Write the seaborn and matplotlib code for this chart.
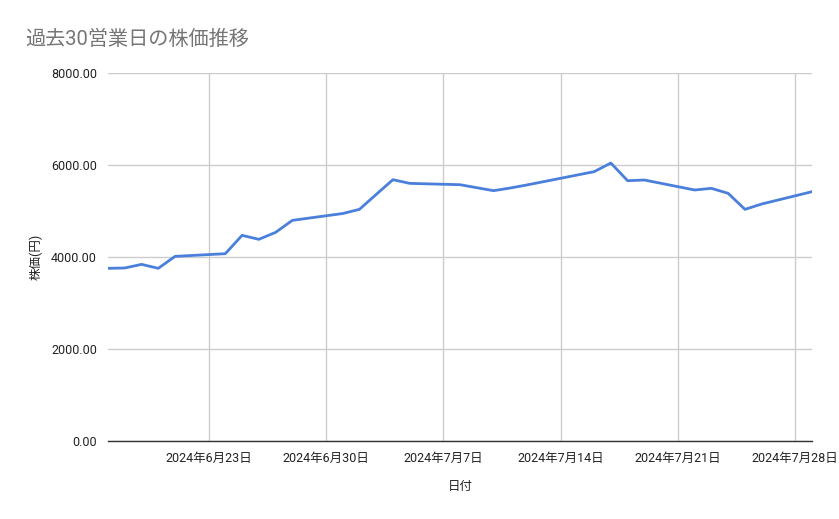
import pandas as pd
import numpy as np
import matplotlib.pyplot as plt
import matplotlib.dates as mdates
import seaborn as sns

# Data (30 business days)
dates = [
    "2024-06-17", "2024-06-18", "2024-06-19", "2024-06-20", "2024-06-21",
    "2024-06-24", "2024-06-25", "2024-06-26", "2024-06-27", "2024-06-28",
    "2024-07-01", "2024-07-02", "2024-07-03", "2024-07-04", "2024-07-05",
    "2024-07-08", "2024-07-09", "2024-07-10", "2024-07-11", "2024-07-12",
    "2024-07-16", "2024-07-17", "2024-07-18", "2024-07-19",
    "2024-07-22", "2024-07-23", "2024-07-24", "2024-07-25", "2024-07-26",
    "2024-07-29",
]
prices = [
    3754, 3761, 3840, 3754, 4014,
    4072, 4471, 4384, 4536, 4797,
    4945, 5036, 5360, 5681, 5601,
    5572, 5507, 5442, 5500, 5567,
    5855, 6043, 5659, 5674,
    5457, 5493, 5384, 5036, 5152,
    5420,
]
tick_dates = ["2024-06-23", "2024-06-30", "2024-07-07", "2024-07-14", "2024-07-21", "2024-07-28"]
y_ticks = [0, 2000, 4000, 6000, 8000]

df = pd.DataFrame({"日付": pd.to_datetime(dates), "株価": prices})

sns.set_theme(style="white")
plt.rcParams['font.family'] = ['Roboto', 'Noto Sans CJK JP', 'DejaVu Sans']

fig = plt.figure(figsize=(8.39, 5.19), dpi=100)
ax = fig.add_axes([0.1287, 0.1503, 0.8391, 0.709])

sns.lineplot(data=df, x="日付", y="株価", ax=ax, color="#4a80dc", linewidth=2)

ax.set_xlim(pd.Timestamp("2024-06-17"), pd.Timestamp("2024-07-29"))
ax.set_ylim(0, 8000)
ax.set_xticks(pd.to_datetime(tick_dates))
ax.set_xticklabels([f"{d.year}年{d.month}月{d.day}日" for d in pd.to_datetime(tick_dates)])
ax.set_yticks(y_ticks)
ax.set_yticklabels([f"{v:.2f}" for v in y_ticks])

ax.grid(True, color="#cccccc", linewidth=1)
for side in ["top", "right", "left"]:
    ax.spines[side].set_visible(False)
ax.spines["bottom"].set_color("#333333")
ax.spines["bottom"].set_linewidth(1)
ax.tick_params(axis="both", length=0, labelsize=9, colors="#222222", pad=8)

ax.set_xlabel("日付", fontsize=9, color="#222222", labelpad=11)
ax.set_ylabel("株価(円)", fontsize=9, color="#222222", labelpad=6)

fig.text(0.03, 0.925, "過去30営業日の株価推移", fontsize=14.5, color="#757575",
         va="center", ha="left")

fig.savefig("out.png", dpi=100)
